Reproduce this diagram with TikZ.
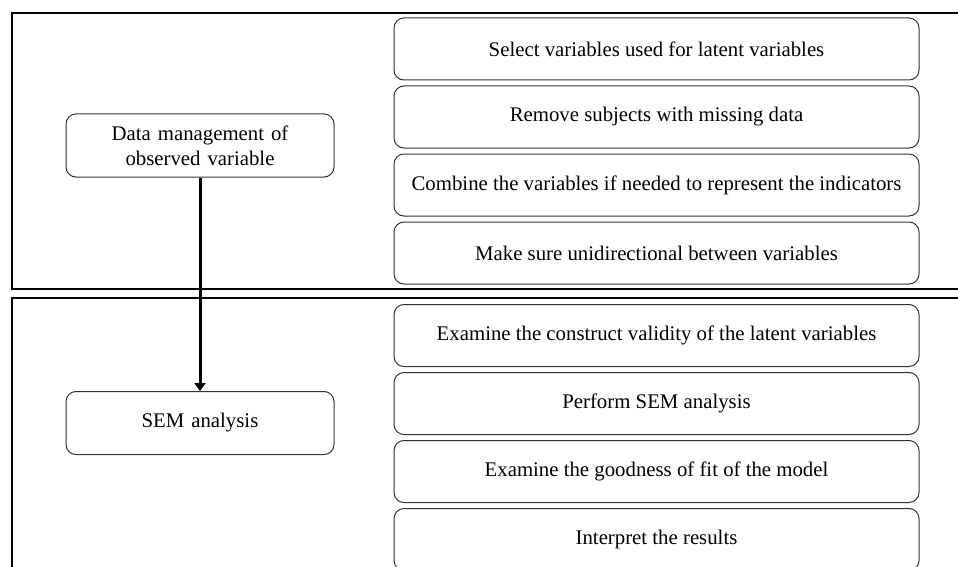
\documentclass[tikz,border=0pt]{standalone}
\usepackage{fontspec}
\setmainfont{Liberation Serif}
\usetikzlibrary{positioning,arrows.meta}

\tikzstyle{stage} = [draw=black!80, line width=1pt, rounded corners=10pt, minimum width=268pt, minimum height=63pt, text width=260pt, align=center, font=\fontsize{20.8}{25}\selectfont]
\tikzstyle{task} = [draw=black!80, line width=1pt, rounded corners=10pt, minimum width=525pt, minimum height=62pt, align=center, font=\fontsize{20.8}{25}\selectfont]
\tikzstyle{panel} = [draw, line width=2pt]
\tikzstyle{arrow} = [line width=3pt,-{Triangle[length=8pt,width=11pt]}]

\begin{document}
\begin{tikzpicture}[x=1pt, y=-1pt, node distance=5pt]
\clip (0,0) rectangle (958,567);

% Panels
\draw [panel] (12,13) rectangle (975,289);
\draw [panel] (12,298) rectangle (975,590);

% Left column
\node (manage) [stage] at (200,145.5) {Data management of\\observed variable};
\node (sem) [stage] at (200,423) {SEM analysis};

% Data management steps
\node (select) [task] at (656.5,49) {Select variables used for latent variables};
\node (remove) [task, below=of select] {Remove subjects with missing data};
\node (combine) [task, below=of remove] {Combine the variables if needed to represent the indicators};
\node (unidir) [task, below=of combine] {Make sure unidirectional between variables};

% SEM analysis steps
\node (validity) [task] at (656.5,335.5) {Examine the construct validity of the latent variables};
\node (perform) [task, below=of validity] {Perform SEM analysis};
\node (fit) [task, below=of perform] {Examine the goodness of fit of the model};
\node (interpret) [task, below=of fit] {Interpret the results};

% Arrow
\draw [arrow] (manage) -- (sem);

\end{tikzpicture}
\end{document}
